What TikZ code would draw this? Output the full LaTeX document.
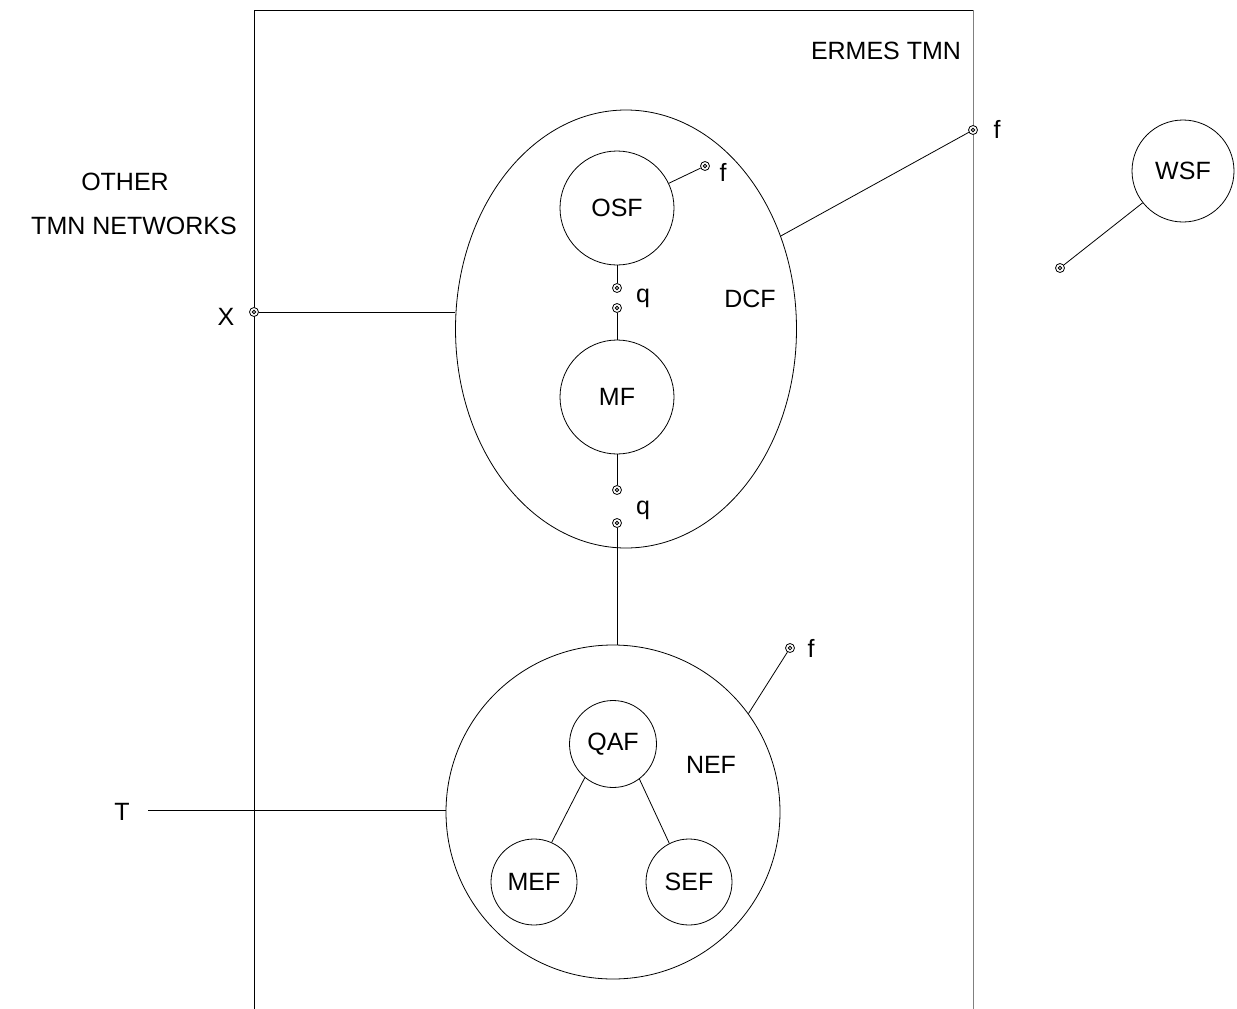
\documentclass[tikz,border=0pt]{standalone}
\usepackage{fontspec}
\setmainfont{Liberation Sans}
\usetikzlibrary{shapes.geometric}
\begin{document}
\begin{tikzpicture}[x=1pt,y=-1pt,
  every node/.style={font=\fontsize{25}{30}\selectfont},
  fn/.style={circle,draw,line width=0.8pt,inner sep=0pt},
  lab/.style={anchor=base,inner sep=0pt},
  refpt/.style={circle,draw,fill=white,line width=0.8pt,minimum size=9pt,inner sep=0pt,
    path picture={\draw[line width=0.8pt] (path picture bounding box.center) circle (1.8pt);}},
  conn/.style={line width=0.8pt},
  frame/.style={line width=0.9pt}]
\useasboundingbox (0,0) rectangle (1237,1009);
% frame of the ERMES TMN
\draw[frame] (254,1009) -- (254,10) -- (973,10);
\draw[frame,gray] (973,10) -- (973,1009);

% function blocks
\node[ellipse,draw,line width=0.8pt,minimum width=341pt,minimum height=438pt,inner sep=0pt] (dcf) at (626,329) {};
\node[fn,minimum size=114pt] (osf) at (617,208) {OSF};
\node[fn,minimum size=114pt] (mf) at (617,397) {MF};
\node[fn,minimum size=334pt] (nef) at (613,812) {};
\node[fn,minimum size=87pt] (qaf) at (613,744) {QAF};
\node[fn,minimum size=86pt] (mef) at (534,882) {MEF};
\node[fn,minimum size=86pt] (sef) at (689,882) {SEF};
\node[fn,minimum size=102pt] (wsf) at (1183,171) {WSF};

% reference points
\node[refpt] (osff) at (705,166) {};
\node[refpt] (q1) at (617,288) {};
\node[refpt] (q2) at (617,308) {};
\node[refpt] (q3) at (617,490) {};
\node[refpt] (q4) at (617,523) {};
\node[refpt] (xref) at (254,312) {};
\node[refpt] (dcff) at (973,130) {};
\node[refpt] (neff) at (790,648) {};
\node[refpt] (wsfref) at (1060,268) {};
\coordinate (tstart) at (148,810);

% connectors
\draw[conn] (osff) -- (osf);
\draw[conn] (osf) -- (q1);
\draw[conn] (q2) -- (mf);
\draw[conn] (mf) -- (q3);
\draw[conn] (q4) -- (q4 |- nef.north);
\draw[conn] (xref) -- (xref -| dcf.west);
\draw[conn] (dcf.31) -- (dcff);
\draw[conn] (neff) -- (nef.36);
\draw[conn] (wsfref) -- (wsf);
\draw[conn] (qaf.230) -- (mef.66);
\draw[conn] (qaf.307) -- (sef.117);
\draw[conn] (tstart) -- (tstart -| nef.west);

% labels
\node[lab] (ermes) at (886,59) {ERMES TMN};
\node[lab] (other) at (125,190) {OTHER};
\node[lab] (tmnnet) at (134,234) {TMN NETWORKS};
\node[lab] (xlab) at (226,325) {X};
\node[lab] (f1) at (723,181) {f};
\node[lab] (q1lab) at (643,302) {q};
\node[lab] (dcflab) at (750,307) {DCF};
\node[lab] (q2lab) at (643,514) {q};
\node[lab] (f2) at (997,138) {f};
\node[lab] (f3) at (811,657) {f};
\node[lab] (neflab) at (711,773) {NEF};
\node[lab] (tlab) at (122,820) {T};
\end{tikzpicture}
\end{document}
